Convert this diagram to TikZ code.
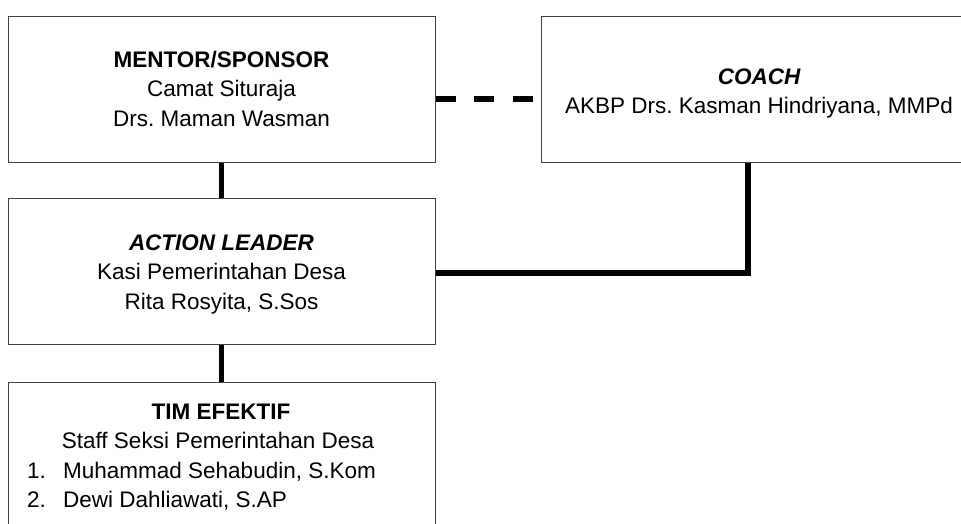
\documentclass[tikz,border=0pt]{standalone}
\usepackage{fontspec}
\setmainfont{Liberation Sans}
\frenchspacing
\begin{document}
\begin{tikzpicture}[x=1pt,y=-1pt,
  box/.style={draw=black!75,line width=1pt,rectangle,inner sep=0pt,fill=white},
  txt/.style={inner sep=0pt,anchor=base,font=\fontsize{22.5}{28}\selectfont\frenchspacing},
  txtl/.style={txt,anchor=base west},
  conn/.style={line width=5.5pt,black,line join=miter},
  dconn/.style={conn,dash pattern=on 20pt off 18.5pt}]
\useasboundingbox (0,0) rectangle (961,523);
\clip (0,0) rectangle (961,523);
\fill[white] (0,0) rectangle (961,523);
% boxes
\node[box,minimum width=427pt,minimum height=146pt] (mentor) at (221.5,89) {};
\node[box,minimum width=436pt,minimum height=146pt] (coach) at (759,89) {};
\node[box,minimum width=427pt,minimum height=146pt] (action) at (221.5,271) {};
\node[box,minimum width=427pt,minimum height=200pt] (tim) at (221.5,482) {};
% connectors
\coordinate (bend) at (748,273);
\draw[conn] (mentor.south) -- (action.north);
\draw[conn] (action.south) -- (tim.north);
\draw[dconn] ([yshift=-10pt]mentor.east) -- ([yshift=-10pt]coach.west);
\draw[conn] ([yshift=-2pt]action.east) -- (bend) -- (bend |- coach.south);
% texts
\node[txt] (m1) at (221.5,67) {\bfseries MENTOR/SPONSOR};
\node[txt] (m2) at (221.5,96.5) {Camat Situraja};
\node[txt] (m3) at (221.5,126) {Drs. Maman Wasman};
\node[txt] (c1) at (759,84) {\bfseries\itshape COACH};
\node[txt] (c2) at (759,113.5) {AKBP Drs. Kasman Hindriyana, MMPd};
\node[txt] (a1) at (221.5,250) {\bfseries\itshape ACTION LEADER};
\node[txt] (a2) at (221.5,279.5) {Kasi Pemerintahan Desa};
\node[txt] (a3) at (221.5,309) {Rita Rosyita, S.Sos};
\node[txt] (t1) at (221,419) {\bfseries TIM EFEKTIF};
\node[txt] (t2) at (218,448.5) {Staff Seksi Pemerintahan Desa};
\node[txtl] (n1) at (27,478) {1.};
\node[txtl] (t3) at (63,478) {Muhammad Sehabudin, S.Kom};
\node[txtl] (n2) at (27,507.5) {2.};
\node[txtl] (t4) at (63,507.5) {Dewi Dahliawati, S.AP};
\end{tikzpicture}
\end{document}
